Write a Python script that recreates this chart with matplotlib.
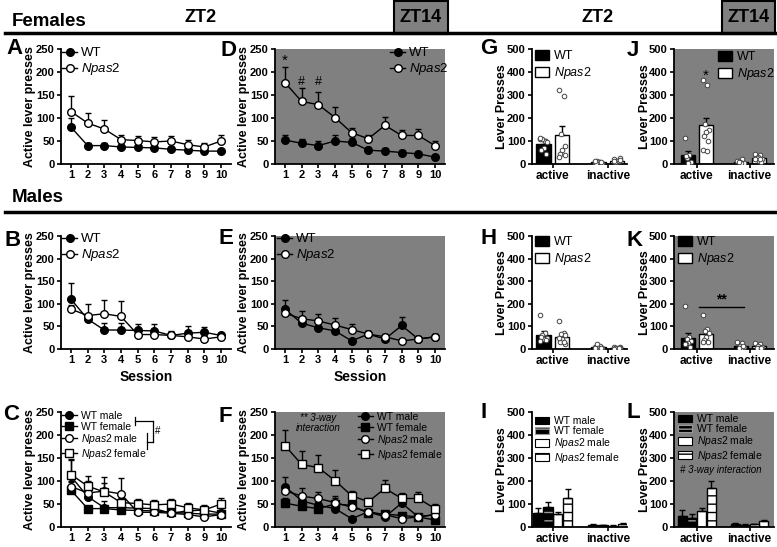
import numpy as np
import matplotlib
matplotlib.use("Agg")
import matplotlib.pyplot as plt
from matplotlib.lines import Line2D
from matplotlib.patches import Patch, Rectangle

plt.rcParams['font.family'] = ['Liberation Sans', 'DejaVu Sans']
plt.rcParams['mathtext.fontset'] = 'custom'
plt.rcParams['mathtext.rm'] = 'Liberation Sans'
plt.rcParams['mathtext.it'] = 'Liberation Sans:italic'
plt.rcParams['mathtext.bf'] = 'Liberation Sans:bold'
plt.rcParams['hatch.linewidth'] = 1.0

# ---------------- data ----------------
sessions = np.arange(1, 11)
session_labels = [str(s) for s in sessions]
line_yticks = [0, 50, 100, 150, 200, 250]
bar_yticks = [0, 100, 200, 300, 400, 500]
categories = ['active', 'inactive']

# A: Females ZT2
wt_f_zt2 = [80, 40, 40, 37, 36, 35, 32, 30, 28, 28]
wt_f_zt2_err = [20, 5, 5, 5, 4, 4, 4, 4, 4, 4]
np_f_zt2 = [114, 89, 76, 53, 51, 48, 50, 42, 37, 50]
np_f_zt2_err = [34, 21, 20, 10, 10, 11, 11, 10, 9, 14]
# D: Females ZT14
wt_f_zt14 = [52, 45, 40, 50, 47, 30, 28, 25, 22, 15]
wt_f_zt14_err = [11, 10, 9, 12, 10, 7, 7, 6, 5, 4]
np_f_zt14 = [177, 136, 129, 101, 68, 55, 84, 62, 62, 40]
np_f_zt14_err = [33, 29, 28, 22, 11, 9, 19, 12, 14, 11]
# B: Males ZT2
wt_m_zt2 = [110, 66, 42, 42, 41, 40, 30, 35, 37, 30]
wt_m_zt2_err = [35, 10, 15, 15, 15, 15, 10, 15, 11, 6]
np_m_zt2 = [88, 74, 78, 72, 32, 32, 30, 27, 22, 27]
np_m_zt2_err = [10, 26, 30, 35, 8, 8, 8, 7, 6, 7]
# E: Males ZT14
wt_m_zt14 = [88, 57, 47, 40, 18, 33, 22, 52, 22, 27]
wt_m_zt14_err = [20, 8, 7, 7, 4, 6, 5, 18, 5, 5]
np_m_zt14 = [79, 67, 62, 53, 43, 33, 27, 18, 22, 27]
np_m_zt14_err = [12, 18, 15, 15, 13, 7, 6, 4, 4, 6]

# G: Females ZT2 bars
g_wt = [88, 8]; g_wt_err = [20, 2]
g_np = [125, 15]; g_np_err = [40, 4]
g_wt_dots = [[108, 100, 110, 95, 70, 60, 45, 115], [5, 10, 12, 3, 8, 6, 9, 11]]
g_np_dots = [[320, 295, 130, 80, 60, 45, 40, 30], [20, 15, 10, 25, 12, 8, 18, 12]]
# J: Females ZT14 bars
j_wt = [38, 10]; j_wt_err = [20, 3]
j_np = [168, 25]; j_np_err = [30, 6]
j_wt_dots = [[115, 40, 25, 10, 5, 35], [15, 20, 8, 5, 3, 10]]
j_np_dots = [[365, 345, 175, 150, 140, 120, 100, 60, 55], [45, 40, 30, 20, 15, 25, 10, 20, 20]]
# H: Males ZT2 bars
h_wt = [63, 8]; h_wt_err = [18, 3]
h_np = [55, 5]; h_np_err = [12, 2]
h_wt_dots = [[150, 70, 60, 50, 45, 55, 40, 35], [10, 15, 20, 5, 3, 2, 4, 5]]
h_np_dots = [[125, 70, 65, 60, 45, 30, 20, 50, 30], [8, 5, 3, 10, 2, 6, 4, 2, 5]]
# K: Males ZT14 bars
k_wt = [50, 15]; k_wt_err = [22, 4]
k_np = [68, 12]; k_np_err = [14, 3]
k_wt_dots = [[190, 55, 45, 35, 25, 20, 10, 20], [30, 25, 15, 10, 5, 5, 15]]
k_np_dots = [[150, 90, 80, 70, 55, 40, 30, 30], [25, 20, 15, 10, 5, 5, 4]]
# I / L: four groups
group_labels = ['WT male', 'WT female', r'$\mathit{Npas2}$ male', r'$\mathit{Npas2}$ female']
i_active = [63, 88, 55, 125]; i_active_err = [18, 20, 12, 40]
i_inactive = [8, 8, 5, 15]; i_inactive_err = [3, 2, 2, 4]
l_active = [50, 38, 68, 168]; l_active_err = [22, 20, 14, 30]
l_inactive = [15, 10, 12, 25]; l_inactive_err = [4, 3, 3, 6]

# ---------------- layout helpers ----------------
W, H = 777, 547
GRAY = '#808080'
fig = plt.figure(figsize=(W / 100, H / 100), dpi=100)


def fx(px):
    return px / W


def fy(py):
    return 1 - py / H


def make_ax(x0, x1, y0, y1, gray=False):
    ax = fig.add_axes([fx(x0), fy(y1), (x1 - x0) / W, (y1 - y0) / H])
    ax.set_facecolor(GRAY if gray else 'white')
    for s in ['top', 'right']:
        ax.spines[s].set_visible(False)
    for s in ['left', 'bottom']:
        ax.spines[s].set_linewidth(1.3)
    ax.tick_params(direction='out', length=3, width=1.2, labelsize=8, pad=1.5)
    return ax


def legend_px(ax, handles, labels, x_px, ytop_px, fs, spacing=0.2, hl=1.2, htp=0.35, hh=0.7):
    return ax.legend(handles, labels, loc='upper left',
                     bbox_to_anchor=(fx(x_px), fy(ytop_px)), bbox_transform=fig.transFigure,
                     frameon=False, fontsize=fs, borderpad=0, borderaxespad=0,
                     labelspacing=spacing, handlelength=hl, handletextpad=htp, handleheight=hh)


def line_handle(marker, filled):
    return Line2D([], [], color='black', lw=1, marker=marker, ms=5.5,
                  mfc='black' if filled else 'white', mec='black', mew=1)


def line_panel(ax, series, ylab_x):
    for y, e, marker, filled, z in series:
        ax.errorbar(sessions, y, yerr=[np.zeros(len(e)), e], color='black', lw=1,
                    marker=marker, ms=5.5, mfc='black' if filled else 'white', mec='black',
                    mew=1, capsize=2.5, capthick=1, elinewidth=1, zorder=z)
    ax.set_xlim(0.4, 10.6)
    ax.set_ylim(0, 250)
    ax.set_xticks(sessions, session_labels, fontweight='bold')
    ax.set_yticks(line_yticks, [str(v) for v in line_yticks], fontweight='bold')
    ax.set_ylabel('Active lever presses', fontweight='bold', fontsize=9)
    ax.yaxis.set_label_coords(ylab_x, 0.5)


def spread(n, w):
    return np.resize([-0.6, 0.3, -0.2, 0.6, 0.0, -0.4, 0.45], n) * w


def dots(ax, xc, vals):
    ax.plot(xc + spread(len(vals), 0.1), vals, 'o', ms=3.3, mfc='white', mec='#444444',
            mew=0.7, ls='none', zorder=4)


def bar_axes_style(ax, xlim, ylab_x):
    ax.set_xlim(*xlim)
    ax.set_ylim(0, 500)
    ax.set_xticks([0, 1], categories, fontweight='bold', fontsize=8.5)
    ax.set_yticks(bar_yticks, [str(v) for v in bar_yticks], fontweight='bold')
    ax.set_ylabel('Lever Presses', fontweight='bold', fontsize=9)
    ax.yaxis.set_label_coords(ylab_x, 0.5)


def bar_panel(ax, wt, wt_err, npv, np_err, wt_dots, np_dots):
    x = np.arange(len(categories))
    off, bw = 0.17, 0.26
    ax.bar(x - off, wt, bw, color='black', edgecolor='black', lw=1, zorder=2)
    ax.bar(x + off, npv, bw, color='white', edgecolor='black', lw=1, zorder=2)
    ax.errorbar(x - off, wt, yerr=[np.zeros(2), wt_err], fmt='none', ecolor='black',
                capsize=2.5, elinewidth=1, capthick=1, zorder=3)
    ax.errorbar(x + off, npv, yerr=[np.zeros(2), np_err], fmt='none', ecolor='black',
                capsize=2.5, elinewidth=1, capthick=1, zorder=3)
    for i in range(len(categories)):
        dots(ax, x[i] - off, wt_dots[i])
        dots(ax, x[i] + off, np_dots[i])


def bar_legend(ax, x_px, ytop_px):
    hs = [Patch(facecolor='black', edgecolor='black'), Patch(facecolor='white', edgecolor='black')]
    legend_px(ax, hs, ['WT', r'$\mathit{Npas2}$'], x_px, ytop_px, 9, spacing=0.25,
              hl=1.1, htp=0.4, hh=0.85)


four_styles = [
    dict(face='black', hatch=None, hcol='black'),
    dict(face='black', hatch='--', hcol='#9a9a9a'),
    dict(face='white', hatch=None, hcol='black'),
    dict(face='white', hatch='--', hcol='black'),
]


def four_bar_panel(ax, active, active_err, inactive, inactive_err):
    offs = [-0.27, -0.09, 0.09, 0.27]
    bw = 0.17
    for k, st in enumerate(four_styles):
        xs = np.arange(2) + offs[k]
        vals = [active[k], inactive[k]]
        errs = [active_err[k], inactive_err[k]]
        ax.bar(xs, vals, bw, color=st['face'], edgecolor=st['hcol'], hatch=st['hatch'], lw=0, zorder=2)
        ax.bar(xs, vals, bw, fill=False, edgecolor='black', lw=1, zorder=2.5)
        ax.errorbar(xs, vals, yerr=[np.zeros(2), errs], fmt='none', ecolor='black',
                    capsize=2, elinewidth=1, capthick=1, zorder=3)


def four_legend(ax, x_px, ytop_px):
    hs = [Patch(facecolor=st['face'], edgecolor=st['hcol'] if st['hatch'] else 'black',
                hatch=st['hatch'], lw=0.8) for st in four_styles]
    legend_px(ax, hs, group_labels, x_px, ytop_px, 7.5, spacing=0.02, hl=1.3, htp=0.5, hh=0.75)


# ---------------- headers ----------------
fig.text(fx(12), fy(22), 'Females', fontsize=13.5, fontweight='bold', va='center', ha='left')
fig.text(fx(12), fy(198), 'Males', fontsize=13.5, fontweight='bold', va='center', ha='left')
fig.text(fx(201), fy(18), 'ZT2', fontsize=13, fontweight='bold', va='center', ha='center')
fig.text(fx(598), fy(18), 'ZT2', fontsize=13, fontweight='bold', va='center', ha='center')
for bx0, bx1 in [(394, 448), (722, 775)]:
    fig.add_artist(Rectangle((fx(bx0), fy(34)), (bx1 - bx0) / W, 33 / H, transform=fig.transFigure,
                             facecolor=GRAY, edgecolor='black', lw=1.5))
    fig.text(fx((bx0 + bx1) / 2), fy(18), 'ZT14', fontsize=13, fontweight='bold', va='center', ha='center')
for ly in [33, 212]:
    fig.add_artist(Line2D([fx(5), fx(775)], [fy(ly), fy(ly)], transform=fig.transFigure,
                          color='black', lw=2.5))

letters = [('A', 6, 49), ('D', 220, 50), ('G', 480, 49), ('J', 627, 50),
           ('B', 5, 241), ('E', 219, 238), ('H', 480, 238), ('K', 626, 241),
           ('C', 3, 414), ('F', 219, 416), ('I', 481, 412), ('L', 626, 413)]
for t, x, y in letters:
    fig.text(fx(x), fy(y), t, fontsize=16, fontweight='bold', va='center', ha='left')

# ---------------- rows ----------------
rows = [(49, 164), (236, 349), (412, 527)]
LX = (61, 231)
MX = (275, 445)
GX = (532, 627)
JX = (674, 774)
YL_LINE = -0.147
YL_G = -0.25
YL_J = -0.235

# A
ax = make_ax(LX[0], LX[1], *rows[0])
line_panel(ax, [(wt_f_zt2, wt_f_zt2_err, 'o', True, 3), (np_f_zt2, np_f_zt2_err, 'o', False, 4)], YL_LINE)
legend_px(ax, [line_handle('o', True), line_handle('o', False)], ['WT', r'$\mathit{Npas2}$'], 62, 47, 9.5,
          spacing=0.15, hl=1.15, htp=0.3)

# D
ax = make_ax(MX[0], MX[1], *rows[0], gray=True)
line_panel(ax, [(wt_f_zt14, wt_f_zt14_err, 'o', True, 3), (np_f_zt14, np_f_zt14_err, 'o', False, 4)], YL_LINE)
legend_px(ax, [line_handle('o', True), line_handle('o', False)], ['WT', r'$\mathit{Npas2}$'], 390, 47, 9.5,
          spacing=0.15, hl=1.15, htp=0.3)
ax.text(1, 224, '*', ha='center', va='center', fontsize=11)
ax.text(2, 178, '#', ha='center', va='center', fontsize=9)
ax.text(3, 178, '#', ha='center', va='center', fontsize=9)

# G
ax = make_ax(GX[0], GX[1], *rows[0])
bar_panel(ax, g_wt, g_wt_err, g_np, g_np_err, g_wt_dots, g_np_dots)
bar_axes_style(ax, (-0.38, 1.35), YL_G)
bar_legend(ax, 535, 50)

# J
ax = make_ax(JX[0], JX[1], *rows[0], gray=True)
bar_panel(ax, j_wt, j_wt_err, j_np, j_np_err, j_wt_dots, j_np_dots)
bar_axes_style(ax, (-0.43, 1.46), YL_J)
bar_legend(ax, 718, 51)
ax.text(0.17, 382, '*', ha='center', va='center', fontsize=11)

# B
ax = make_ax(LX[0], LX[1], *rows[1])
line_panel(ax, [(wt_m_zt2, wt_m_zt2_err, 'o', True, 3), (np_m_zt2, np_m_zt2_err, 'o', False, 4)], YL_LINE)
legend_px(ax, [line_handle('o', True), line_handle('o', False)], ['WT', r'$\mathit{Npas2}$'], 62, 233, 9.5,
          spacing=0.15, hl=1.15, htp=0.3)
ax.set_xlabel('Session', fontweight='bold', fontsize=10)
ax.xaxis.set_label_coords(0.5, -0.19)

# E
ax = make_ax(MX[0], MX[1], *rows[1], gray=True)
line_panel(ax, [(wt_m_zt14, wt_m_zt14_err, 'o', True, 3), (np_m_zt14, np_m_zt14_err, 'o', False, 4)], YL_LINE)
legend_px(ax, [line_handle('o', True), line_handle('o', False)], ['WT', r'$\mathit{Npas2}$'], 277, 233, 9.5,
          spacing=0.15, hl=1.15, htp=0.3)
ax.set_xlabel('Session', fontweight='bold', fontsize=10)
ax.xaxis.set_label_coords(0.5, -0.19)

# H
ax = make_ax(GX[0], GX[1], *rows[1])
bar_panel(ax, h_wt, h_wt_err, h_np, h_np_err, h_wt_dots, h_np_dots)
bar_axes_style(ax, (-0.38, 1.35), YL_G)
bar_legend(ax, 535, 236)

# K
ax = make_ax(JX[0], JX[1], *rows[1], gray=True)
bar_panel(ax, k_wt, k_wt_err, k_np, k_np_err, k_wt_dots, k_np_dots)
bar_axes_style(ax, (-0.43, 1.46), YL_J)
bar_legend(ax, 678, 236)
ax.plot([0.05, 0.9], [185, 185], color='black', lw=1)
ax.text(0.47, 187, '**', ha='center', va='bottom', fontsize=10, fontweight='bold')

# C
ax = make_ax(LX[0], LX[1], *rows[2])
line_panel(ax, [(wt_m_zt2, wt_m_zt2_err, 'o', True, 3), (wt_f_zt2, wt_f_zt2_err, 's', True, 3),
                (np_m_zt2, np_m_zt2_err, 'o', False, 4), (np_f_zt2, np_f_zt2_err, 's', False, 4)], YL_LINE)
hs4 = [line_handle('o', True), line_handle('s', True), line_handle('o', False), line_handle('s', False)]
legend_px(ax, hs4, group_labels, 62, 411, 7.5, spacing=0.05, hl=1.4, htp=0.4)
for (xa, ya), (xb, yb) in [((135, 417), (135, 425)), ((135, 421), (153, 421)), ((153, 421), (153, 442)),
                           ((147, 433), (147, 449)), ((147, 442), (153, 442))]:
    fig.add_artist(Line2D([fx(xa), fx(xb)], [fy(ya), fy(yb)], transform=fig.transFigure, color='black', lw=0.9))
fig.text(fx(158), fy(431), '#', fontsize=7, ha='center', va='center')

# F
ax = make_ax(MX[0], MX[1], *rows[2], gray=True)
line_panel(ax, [(wt_m_zt14, wt_m_zt14_err, 'o', True, 3), (wt_f_zt14, wt_f_zt14_err, 's', True, 3),
                (np_m_zt14, np_m_zt14_err, 'o', False, 4), (np_f_zt14, np_f_zt14_err, 's', False, 4)], YL_LINE)
hs4 = [line_handle('o', True), line_handle('s', True), line_handle('o', False), line_handle('s', False)]
legend_px(ax, hs4, group_labels, 358, 412, 7.5, spacing=0.05, hl=1.4, htp=0.4)
fig.text(fx(318), fy(423), '** 3-way\ninteraction', fontsize=7, fontstyle='italic', ha='center', va='center',
         linespacing=1.1)

# I
ax = make_ax(GX[0], GX[1], *rows[2])
four_bar_panel(ax, i_active, i_active_err, i_inactive, i_inactive_err)
bar_axes_style(ax, (-0.38, 1.35), YL_G)
four_legend(ax, 535, 416)

# L
ax = make_ax(JX[0], JX[1], *rows[2], gray=True)
four_bar_panel(ax, l_active, l_active_err, l_inactive, l_inactive_err)
bar_axes_style(ax, (-0.43, 1.46), YL_J)
four_legend(ax, 678, 414)
fig.text(fx(680), fy(470), '# 3-way interaction', fontsize=7, fontstyle='italic', ha='left', va='center')

fig.savefig('out.png', dpi=100)
